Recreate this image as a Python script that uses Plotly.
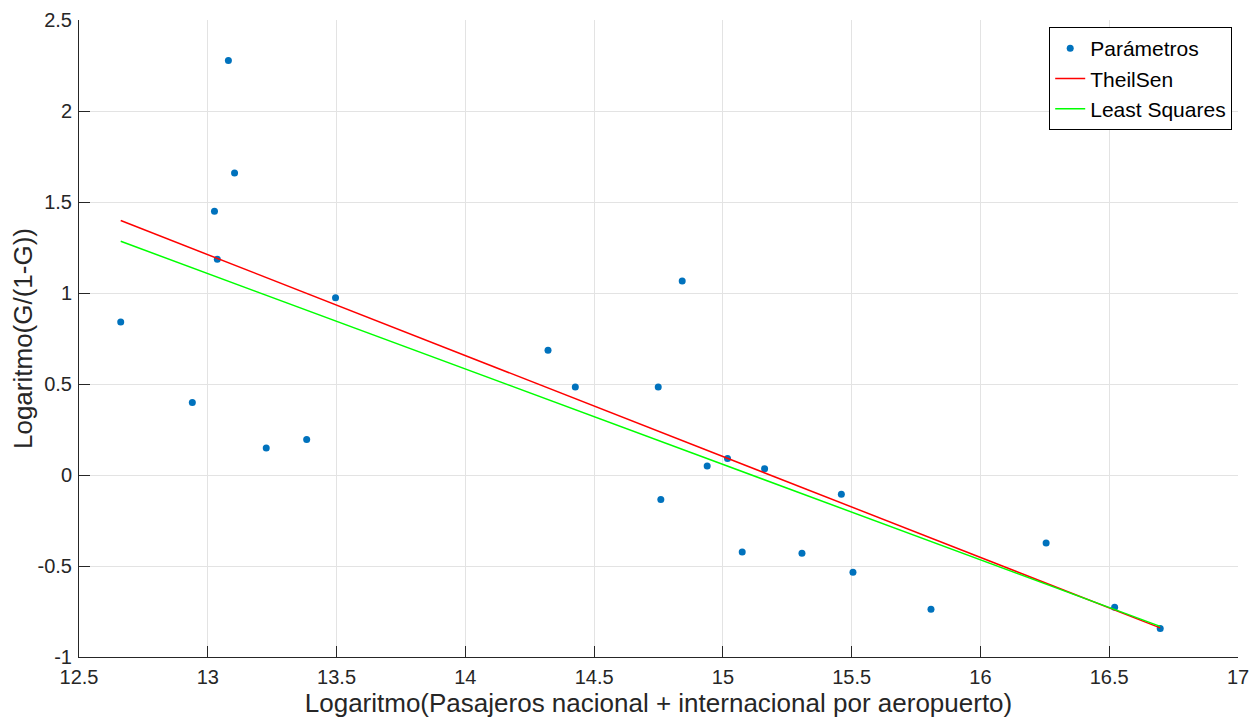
import plotly.graph_objects as go

# Data points
log_pasajeros = [12.662, 12.940, 13.026, 13.037, 13.080, 13.104, 13.227, 13.384, 13.496,
                 14.321, 14.427, 14.749, 14.759, 14.842, 14.939, 15.018, 15.075, 15.162,
                 15.307, 15.460, 15.505, 15.808, 16.255, 16.521, 16.698]
log_g = [0.840, 0.399, 1.449, 1.185, 2.278, 1.660, 0.149, 0.195, 0.974,
         0.685, 0.483, 0.483, -0.135, 1.066, 0.050, 0.091, -0.423, 0.034,
         -0.430, -0.106, -0.535, -0.737, -0.373, -0.727, -0.843]

# Fit line endpoints
fit_x = [12.662, 16.698]
theilsen_y = [1.398, -0.840]
leastsq_y = [1.284, -0.832]

x_ticks = [12.5, 13, 13.5, 14, 14.5, 15, 15.5, 16, 16.5, 17]
x_ticklabels = ["12.5", "13", "13.5", "14", "14.5", "15", "15.5", "16", "16.5", "17"]
y_ticks = [-1, -0.5, 0, 0.5, 1, 1.5, 2, 2.5]
y_ticklabels = ["-1", "-0.5", "0", "0.5", "1", "1.5", "2", "2.5"]

FONT = "Liberation Sans, Arial, Helvetica, sans-serif"
AX = "#262626"
GRID = "#e3e3e3"

fig = go.Figure()
fig.add_trace(go.Scatter(x=log_pasajeros, y=log_g, mode="markers", name="Parámetros",
                         marker=dict(color="#0072BD", size=7)))
fig.add_trace(go.Scatter(x=fit_x, y=theilsen_y, mode="lines", name="TheilSen",
                         line=dict(color="#FF0000", width=1.5)))
fig.add_trace(go.Scatter(x=fit_x, y=leastsq_y, mode="lines", name="Least Squares",
                         line=dict(color="#00FF00", width=1.5)))

axis_common = dict(showgrid=True, gridcolor=GRID, gridwidth=1, zeroline=False,
                   showline=True, linecolor=AX, linewidth=1, mirror=False,
                   ticks="inside", ticklen=11, tickcolor=AX, tickwidth=1,
                   automargin=False,
                   tickfont=dict(family=FONT, size=20, color=AX))

fig.update_xaxes(range=[12.5, 17], tickmode="array", tickvals=x_ticks, ticktext=x_ticklabels,
                 ticklabelstandoff=2,
                 title=dict(text="Logaritmo(Pasajeros nacional + internacional por aeropuerto)",
                            font=dict(family=FONT, size=26, color=AX), standoff=2),
                 **axis_common)
fig.update_yaxes(range=[-1, 2.5], tickmode="array", tickvals=y_ticks, ticktext=y_ticklabels,
                 ticklabelstandoff=2,
                 title=dict(text="Logaritmo(G/(1-G))",
                            font=dict(family=FONT, size=26, color=AX), standoff=6),
                 **axis_common)

# The page body adds an 8px margin, so the figure is sized to fit the window.
fig.update_layout(
    width=1249, height=710,
    margin=dict(l=71, r=19, t=12, b=61, autoexpand=False),
    paper_bgcolor="white", plot_bgcolor="white",
    font=dict(family=FONT, color=AX),
    legend=dict(x=0.995, y=0.989, xanchor="right", yanchor="top",
                bgcolor="white", bordercolor="#000000", borderwidth=1,
                font=dict(family=FONT, size=21, color="#000000"),
                itemwidth=30, tracegroupgap=0),
    showlegend=True,
)

fig.write_html("out.html")
